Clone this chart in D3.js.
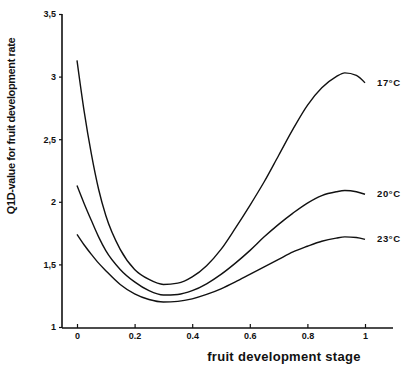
<!DOCTYPE html>
<html>
<head>
<meta charset="utf-8">
<script src="https://cdn.jsdelivr.net/npm/d3@7"></script>
<style>
  body { margin: 0; background: #fff; }
  text { font-family: "Liberation Sans", Arial, sans-serif; font-weight: bold; fill: #111; }
</style>
</head>
<body>
<div id="chart"></div>
<script>
// fruit development stage (x) and Q10 values per temperature
var stage = [0, 0.025, 0.05, 0.075, 0.1, 0.15, 0.2, 0.25, 0.3, 0.35, 0.4, 0.45, 0.5, 0.55, 0.6, 0.65, 0.7, 0.75, 0.8, 0.85, 0.9, 0.93, 0.97, 1.0];
var q17 = [3.13, 2.72, 2.38, 2.10, 1.89, 1.62, 1.46, 1.38, 1.34, 1.35, 1.40, 1.49, 1.62, 1.79, 1.97, 2.16, 2.37, 2.58, 2.77, 2.91, 3.00, 3.03, 3.01, 2.95];
var q20 = [2.13, 1.985, 1.85, 1.72, 1.61, 1.46, 1.36, 1.29, 1.255, 1.26, 1.29, 1.345, 1.42, 1.51, 1.61, 1.72, 1.82, 1.91, 1.99, 2.05, 2.08, 2.09, 2.08, 2.06];
var q23 = [1.74, 1.655, 1.58, 1.51, 1.45, 1.34, 1.265, 1.22, 1.20, 1.205, 1.225, 1.26, 1.305, 1.36, 1.42, 1.48, 1.54, 1.60, 1.645, 1.685, 1.71, 1.72, 1.715, 1.70];
var seriesNames = ["17°C", "20°C", "23°C"];
var xTicks = [0, 0.2, 0.4, 0.6, 0.8, 1];
var yTicks = [1, 1.5, 2, 2.5, 3, 3.5];

var series = [q17, q20, q23].map(function(vals, i) {
  return { name: seriesNames[i], values: vals.map(function(v, j) { return { x: stage[j], y: v }; }) };
});

var width = 411, height = 366;

var x = d3.scaleLinear().domain([0, 1]).range([77, 365]);
var y = d3.scaleLinear().domain([1, 3.5]).range([327, 14]);

var svg = d3.select("#chart").append("svg")
  .attr("width", width)
  .attr("height", height);

// axes lines
svg.append("line")
  .attr("x1", 62).attr("x2", 62)
  .attr("y1", y(3.5)).attr("y2", 328)
  .attr("stroke", "#111").attr("stroke-width", 1.6);
svg.append("line")
  .attr("x1", 62).attr("x2", 393)
  .attr("y1", 328).attr("y2", 328)
  .attr("stroke", "#111").attr("stroke-width", 1.4);

// y ticks
var yAxis = svg.append("g").attr("transform", "translate(62,0)")
  .call(d3.axisLeft(y).tickValues(yTicks).tickSize(3).tickPadding(3)
    .tickFormat(function(d) { return d3.format("")(d).replace(".", ","); }));
yAxis.select(".domain").remove();
yAxis.selectAll("line").attr("stroke", "#111").attr("stroke-width", 1.2);
yAxis.selectAll("text").style("font-size", "9px").attr("fill", "#111");

// x ticks
var xAxis = svg.append("g").attr("transform", "translate(0,328)")
  .call(d3.axisBottom(x).tickValues(xTicks).tickSizeInner(-4).tickSizeOuter(0).tickPadding(5)
    .tickFormat(d3.format("")));
xAxis.select(".domain").remove();
xAxis.selectAll("line").attr("stroke", "#111").attr("stroke-width", 1.2);
xAxis.selectAll("text").style("font-size", "9px").attr("fill", "#111");

// curves
var line = d3.line()
  .x(function(d) { return x(d.x); })
  .y(function(d) { return y(d.y); })
  .curve(d3.curveMonotoneX);

svg.selectAll(".curve")
  .data(series)
  .enter().append("path")
  .attr("class", "curve")
  .attr("d", function(d) { return line(d.values); })
  .attr("fill", "none")
  .attr("stroke", "#111")
  .attr("stroke-width", 1.4);

// series labels at the right end
svg.selectAll(".lbl")
  .data(series)
  .enter().append("text")
  .attr("class", "lbl")
  .attr("x", 377)
  .attr("y", function(d) { return y(d.values[d.values.length - 1].y) + 3; })
  .style("font-size", "9.5px")
  .style("letter-spacing", "0.6px")
  .text(function(d) { return d.name; });

// axis titles
svg.append("text")
  .attr("x", 284)
  .attr("y", 361)
  .attr("text-anchor", "middle")
  .style("font-size", "13px")
  .style("letter-spacing", "0.3px")
  .text("fruit development stage");

svg.append("text")
  .attr("transform", "translate(15,126) rotate(-90)")
  .attr("text-anchor", "middle")
  .style("font-size", "11px")
  .style("letter-spacing", "-0.4px")
  .text("Q1D-value for fruit development rate");
</script>
</body>
</html>
